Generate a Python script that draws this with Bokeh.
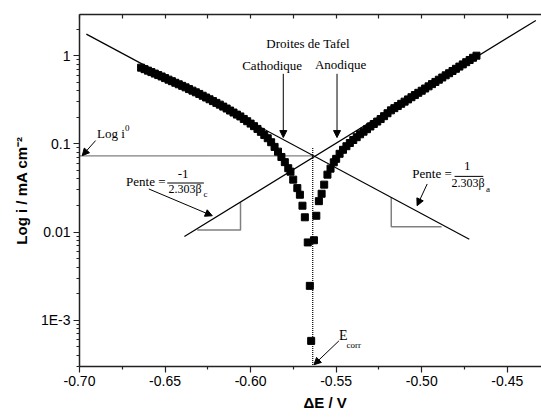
from bokeh.plotting import figure
from bokeh.models import (Range1d, FixedTicker, LinearAxis, Label, Arrow, NormalHead,
                          Title, NumeralTickFormatter, CustomJSTickFormatter)
from bokeh.embed import file_html
from bokeh.resources import INLINE

# ---------------- data ----------------
E_cath = [-0.664, -0.662, -0.660, -0.658, -0.656, -0.654, -0.652, -0.650, -0.648, -0.646,
          -0.644, -0.642, -0.640, -0.638, -0.636, -0.634, -0.632, -0.630, -0.628, -0.626,
          -0.624, -0.622, -0.620, -0.618, -0.616, -0.614, -0.612, -0.610, -0.608, -0.606,
          -0.604, -0.602, -0.600, -0.598, -0.596, -0.594, -0.592, -0.590, -0.588, -0.586,
          -0.584, -0.582, -0.580, -0.578,
          -0.5767, -0.5751, -0.5727, -0.5712, -0.5697, -0.5683, -0.5666, -0.5654, -0.5646]
i_cath = [0.733, 0.705, 0.678, 0.653, 0.628, 0.604, 0.582, 0.558, 0.536, 0.515,
          0.494, 0.475, 0.456, 0.438, 0.419, 0.402, 0.385, 0.369, 0.352, 0.336,
          0.321, 0.306, 0.292, 0.279, 0.265, 0.252, 0.239, 0.227, 0.215, 0.205,
          0.192, 0.181, 0.170, 0.159, 0.148, 0.137, 0.126, 0.116, 0.1045, 0.0925,
          0.0817, 0.0711, 0.0621, 0.0530,
          0.0484, 0.0393, 0.0315, 0.0265, 0.0199, 0.0147, 0.00762, 0.00245, 0.000582]

E_anod = [-0.5630, -0.5616, -0.5601, -0.5585, -0.5570, -0.5551, -0.5533, -0.5514,
          -0.550, -0.548, -0.546, -0.544, -0.542, -0.540, -0.538, -0.536, -0.534, -0.532,
          -0.530, -0.528, -0.526, -0.524, -0.522, -0.520, -0.518, -0.516, -0.514, -0.512,
          -0.510, -0.508, -0.506, -0.504, -0.502, -0.500, -0.498, -0.496, -0.494, -0.492,
          -0.490, -0.488, -0.486, -0.484, -0.482, -0.480, -0.478, -0.476, -0.474, -0.472,
          -0.470, -0.468]
i_anod = [0.00807, 0.0153, 0.0224, 0.0272, 0.0345, 0.0448, 0.0524, 0.0618,
          0.0677, 0.0772, 0.0857, 0.0941, 0.1024, 0.1107, 0.1192, 0.1286, 0.1376, 0.1469,
          0.1577, 0.1683, 0.1792, 0.1914, 0.2064, 0.2228, 0.2403, 0.2545, 0.2690, 0.2851,
          0.3018, 0.3197, 0.3386, 0.3584, 0.3800, 0.4013, 0.4250, 0.4501, 0.4769, 0.5051,
          0.5350, 0.5667, 0.6003, 0.6342, 0.6719, 0.7117, 0.7539, 0.7986, 0.8459, 0.8961,
          0.9490, 1.0026]

tafel_cath_E = [-0.696, -0.4722]
tafel_cath_i = [1.76, 0.0083]
tafel_anod_E = [-0.6387, -0.4333]
tafel_anod_i = [0.0089, 2.52]

E_corr = -0.5637
i_0 = 0.073
vline_top_i = 0.09

tri_c_E = [-0.6312, -0.6059, -0.6059]
tri_c_i = [0.01054, 0.01054, 0.0218]
tri_a_E = [-0.5178, -0.5178, -0.4884]
tri_a_i = [0.0249, 0.0115, 0.0115]

x_ticks = [-0.70, -0.65, -0.60, -0.55, -0.50, -0.45]
x_minor = [-0.675, -0.625, -0.575, -0.525, -0.475]
y_ticks = [0.001, 0.01, 0.1, 1.0]
y_tick_labels = ["1E-3", "0.01", "0.1", "1"]

X_MIN, X_MAX = -0.70, -0.4300
Y_MIN, Y_MAX = 2.98e-4, 2.94

# ---------------- figure ----------------
p = figure(width=541, height=419, x_range=Range1d(X_MIN, X_MAX),
           y_range=Range1d(Y_MIN, Y_MAX), y_axis_type="log",
           output_backend="svg", toolbar_location=None,
           min_border_left=79, min_border_right=0, min_border_top=14, min_border_bottom=53)
p.grid.visible = False
p.outline_line_color = None
p.background_fill_color = "white"
p.border_fill_color = "white"

SANS = "Liberation Sans"
SERIF = "Liberation Serif"
AXC = "#222222"

xa = p.xaxis[0]
xa.ticker = FixedTicker(ticks=x_ticks, minor_ticks=x_minor)
xa.formatter = NumeralTickFormatter(format="0.00")
xa.major_tick_out = 6
xa.major_tick_in = 0
xa.minor_tick_out = 3
xa.minor_tick_in = 0
xa.major_label_standoff = 3
xa.major_label_text_font = SANS
xa.major_label_text_font_size = "14px"
xa.major_label_text_color = "black"
xa.axis_line_width = 1.5
xa.axis_line_color = AXC
xa.major_tick_line_color = AXC
xa.minor_tick_line_color = AXC
xa.major_tick_line_width = 1.2
xa.minor_tick_line_width = 1.2

y_minor = [k * 10.0 ** e for e in range(-4, 1) for k in range(2, 10)]
ya = p.yaxis[0]
ya.ticker = FixedTicker(ticks=y_ticks, minor_ticks=y_minor)
ya.formatter = CustomJSTickFormatter(args=dict(tvals=y_ticks, tlabels=y_tick_labels), code="""
for (let k = 0; k < tvals.length; k++) {
  if (Math.abs(Math.log10(tick) - Math.log10(tvals[k])) < 1e-6) { return tlabels[k]; }
}
return "";
""")
ya.major_tick_out = 6
ya.major_tick_in = 0
ya.minor_tick_out = 3
ya.minor_tick_in = 0
ya.major_label_standoff = 3
ya.major_label_text_font = SANS
ya.major_label_text_font_size = "14px"
ya.major_label_text_color = "black"
ya.axis_line_width = 1.5
ya.axis_line_color = AXC
ya.major_tick_line_color = AXC
ya.minor_tick_line_color = AXC
ya.major_tick_line_width = 1.2
ya.minor_tick_line_width = 1.2
ya.axis_label = "Log i / mA cm\u207b\u00b2"
ya.axis_label_text_font = SANS
ya.axis_label_text_font_style = "bold"
ya.axis_label_text_font_size = "15px"
ya.axis_label_text_color = "black"
ya.axis_label_standoff = 8

top = LinearAxis(ticker=FixedTicker(ticks=x_ticks + x_minor),
                 formatter=CustomJSTickFormatter(code="return '';"),
                 major_tick_in=4, major_tick_out=0, minor_tick_in=0, minor_tick_out=0,
                 major_label_standoff=0, major_label_text_font_size="0px",
                 axis_line_width=1.5, axis_line_color=AXC,
                 major_tick_line_color=AXC, major_tick_line_width=1.2)
p.add_layout(top, "above")

xt = Title(text="\u0394E / V", align="left", offset=224, standoff=7,
           text_font=SANS, text_font_style="bold", text_font_size="15px", text_color="black")
p.add_layout(xt, "below")

# ---------------- guide lines ----------------
p.line([X_MIN, E_corr], [i_0, i_0], line_color="#000000", line_dash="1 1", line_width=1.2)
p.line([E_corr, E_corr], [vline_top_i, Y_MIN], line_color="#000000", line_dash="1 1", line_width=1.2)

# slope triangles
p.line(tri_c_E, tri_c_i, line_color="#808080", line_width=1.5)
p.line(tri_a_E, tri_a_i, line_color="#808080", line_width=1.5)

# Tafel lines
p.line(tafel_cath_E, tafel_cath_i, line_color="black", line_width=1.2)
p.line(tafel_anod_E, tafel_anod_i, line_color="black", line_width=1.2)

# data
p.scatter(E_cath, i_cath, marker="square", size=7, color="black")
p.scatter(E_anod, i_anod, marker="square", size=7, color="black")

# ---------------- annotations ----------------
def lab(x, y, text, size="13px", align="center", baseline="middle"):
    p.add_layout(Label(x=x, y=y, text=text, text_font=SERIF, text_font_size=size,
                       text_align=align, text_baseline=baseline, text_color="#000000"))

def arr(x0, y0, x1, y1):
    p.add_layout(Arrow(end=NormalHead(size=7, line_color="black", fill_color="black", line_width=1),
                       x_start=x0, y_start=y0, x_end=x1, y_end=y1,
                       line_color="black", line_width=1))

lab(-0.5664, 1.39, "Droites de Tafel")
lab(-0.5874, 0.776, "Cathodique")
lab(-0.5474, 0.796, "Anodique")
arr(-0.5809, 0.624, -0.5809, 0.118)
arr(-0.5495, 0.624, -0.5495, 0.118)

lab(-0.6897, 0.130, "Log i", size="13px", align="left")
lab(-0.6721, 0.152, "0", size="9px")
arr(-0.6906, 0.109, -0.6984, 0.0736)

# left slope label
lab(-0.6497, 0.0373, "Pente =", align="right")
lab(-0.6394, 0.0456, "-1")
p.line([-0.6487, -0.6273], [0.0360, 0.0360], line_color="black", line_width=1)
lab(-0.6383, 0.0308, "2.303\u03b2", size="12px")
lab(-0.6264, 0.0272, "c", size="9px")
arr(-0.6595, 0.0308, -0.6224, 0.0153)

# right slope label
lab(-0.5055, 0.0456, "Pente =", align="left")
lab(-0.4734, 0.0556, "1")
p.line([-0.4808, -0.4640], [0.0428, 0.0428], line_color="black", line_width=1)
lab(-0.4729, 0.0357, "2.303\u03b2", size="12px")
lab(-0.4612, 0.0310, "a", size="9px")
arr(-0.4968, 0.0351, -0.5027, 0.0199)

# Ecorr
lab(-0.5459, 6.63e-4, "E", size="14px")
lab(-0.5397, 5.24e-4, "corr", size="9px")
arr(-0.5484, 5.82e-4, -0.5630, 3.12e-4)

open("out.html", "w").write(file_html(p, INLINE))
